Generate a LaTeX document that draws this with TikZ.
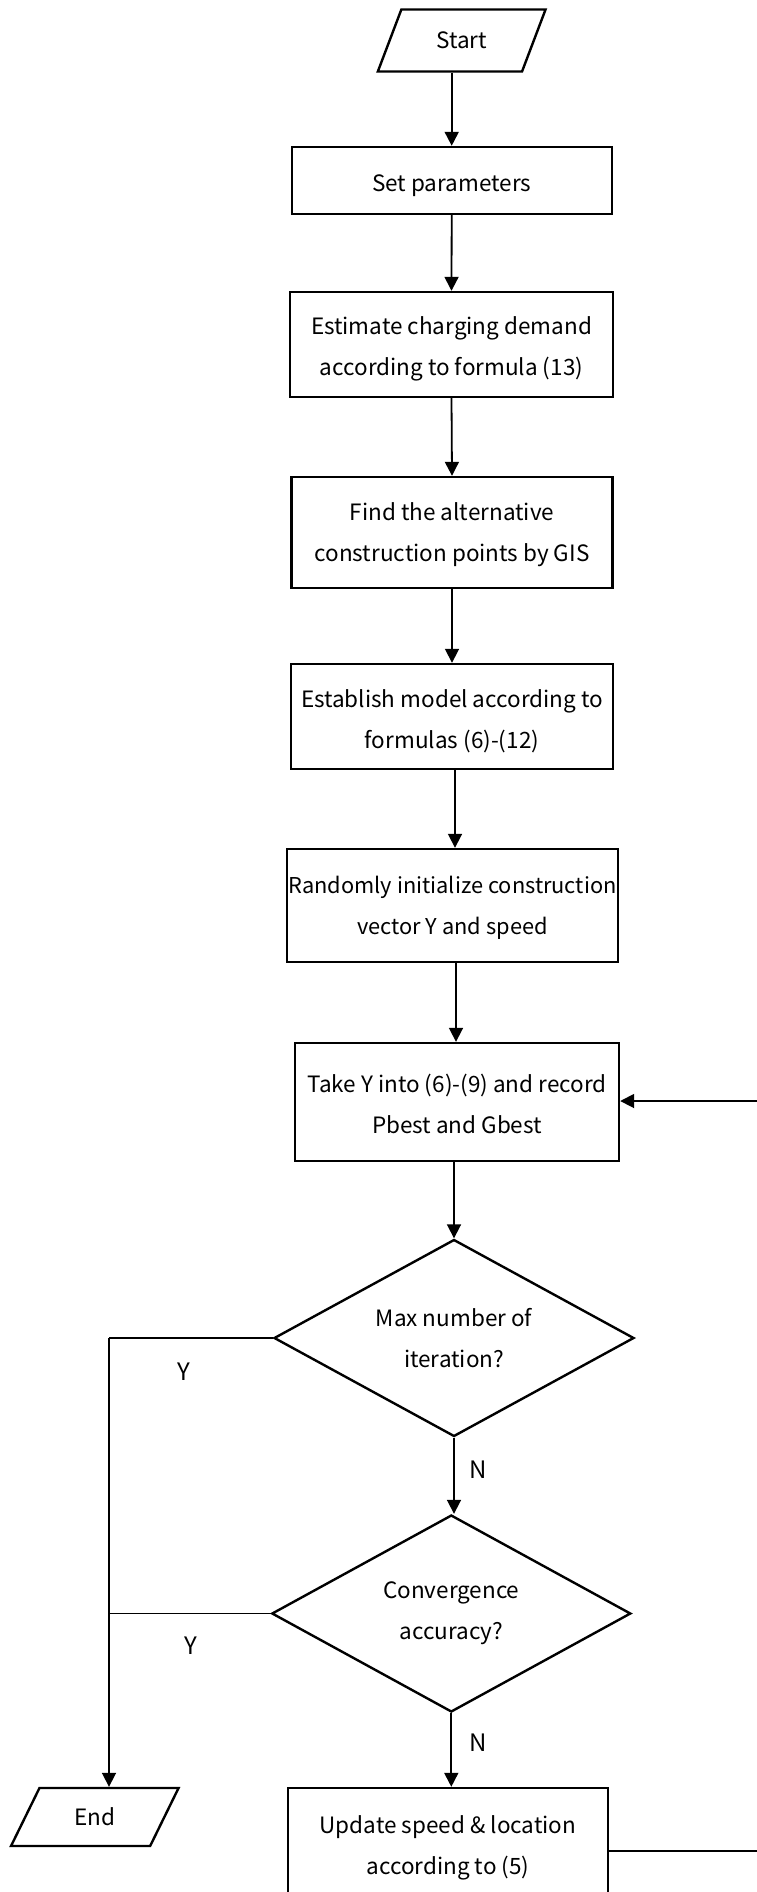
\documentclass[tikz,border=0pt]{standalone}
\usepackage{fontspec}
\setmainfont{Noto Sans CJK SC}
\usetikzlibrary{shapes.geometric,arrows.meta}
\newcommand\dn{\rule{0pt}{27pt}}
\newcommand\dnb{\rule{0pt}{22pt}}
\tikzset{
  box/.style={draw, line width=2.4pt, rectangle, align=center, inner sep=0pt, font=\fontsize{22.5}{41}\selectfont},
  decision/.style={draw, line width=2.4pt, diamond, align=center, inner sep=0pt, font=\fontsize{22.5}{41}\selectfont},
  io/.style={draw, line width=2.4pt, trapezium, trapezium stretches=true, trapezium left angle=60, trapezium right angle=120, inner sep=0pt, font=\fontsize{22.5}{26}\selectfont},
  conn/.style={line width=1.8pt, -{Triangle[length=14pt,width=14pt]}},
  line/.style={line width=1.8pt},
  lbl/.style={font=\fontsize{24}{28}\selectfont, inner sep=0pt}
}
\begin{document}
\begin{tikzpicture}[x=1pt,y=-1pt]
\useasboundingbox (0,0) rectangle (757,1892);
\clip (0,0) rectangle (757,1892);
\node[io, minimum width=168, minimum height=62] (start) at (461.7,40.5) {Start};
\node[box, minimum width=320, minimum height=67] (sp) at (451.7,180.5) {\dn Set parameters};
\node[box, minimum width=323, minimum height=105] (est) at (451.5,344.5) {\dn Estimate charging demand\\according to formula (13)};
\node[box, minimum width=321, minimum height=111] (find) at (452,532.5) {\dnb Find the alternative\\construction points by GIS};
\node[box, minimum width=322, minimum height=105] (estab) at (452,716.5) {\dn Establish model according to\\formulas (6)-(12)};
\node[box, minimum width=331, minimum height=113, font=\fontsize{21.8}{41}\selectfont] (rand) at (452.5,905.5) {\dnb Randomly initialize construction\\vector Y and speed};
\node[box, minimum width=324, minimum height=118] (take) at (457,1102) {\dnb Take Y into (6)-(9) and record\\Pbest and Gbest};
\node[decision, minimum width=360, minimum height=197, aspect=1.83] (d1) at (454,1338) {Max number of\\iteration?};
\node[decision, minimum width=359, minimum height=197, aspect=1.83] (d2) at (451.3,1613.5) {Convergence\\accuracy?};
\node[io, minimum width=168, minimum height=58] (end) at (94.8,1817) {End};
\node[box, minimum width=320, minimum height=116] (upd) at (448,1846) {\dnb Update speed \& location\\according to (5)};
\coordinate (yl) at (109,1338);
\coordinate (yl2) at (109,1613.5);
\coordinate (r1) at (790,1851);
\coordinate (r2) at (790,1101);
\draw[conn] (start.south -| sp.north) -- (sp.north);
\draw[conn] (sp.south) -- (est.north);
\draw[conn] (est.south) -- (find.north);
\draw[conn] (find.south) -- (estab.north);
\draw[conn] (estab.south -| 455,0) -- (rand.north -| 455,0);
\draw[conn] (rand.south -| 456,0) -- (take.north -| 456,0);
\draw[conn] (take.south -| d1.north) -- (d1.north);
\draw[conn] (d1.south) -- (d1.south |- d2.north);
\draw[conn] (d2.south) -- (d2.south |- upd.north);
\draw[line] (d1.west) -- (yl);
\draw[conn] (yl) -- (yl |- end.north);
\draw[line] (d2.west) -- (yl2);
\draw[conn] (upd.east |- r1) -- (r1) -- (r2) -- (take.east |- r2);
\node[lbl] (y1) at (183.5,1371.5) {Y};
\node[lbl] (y2) at (190.8,1645.6) {Y};
\node[lbl] (n1) at (478,1470) {N};
\node[lbl] (n2) at (478,1743) {N};
\end{tikzpicture}
\end{document}
